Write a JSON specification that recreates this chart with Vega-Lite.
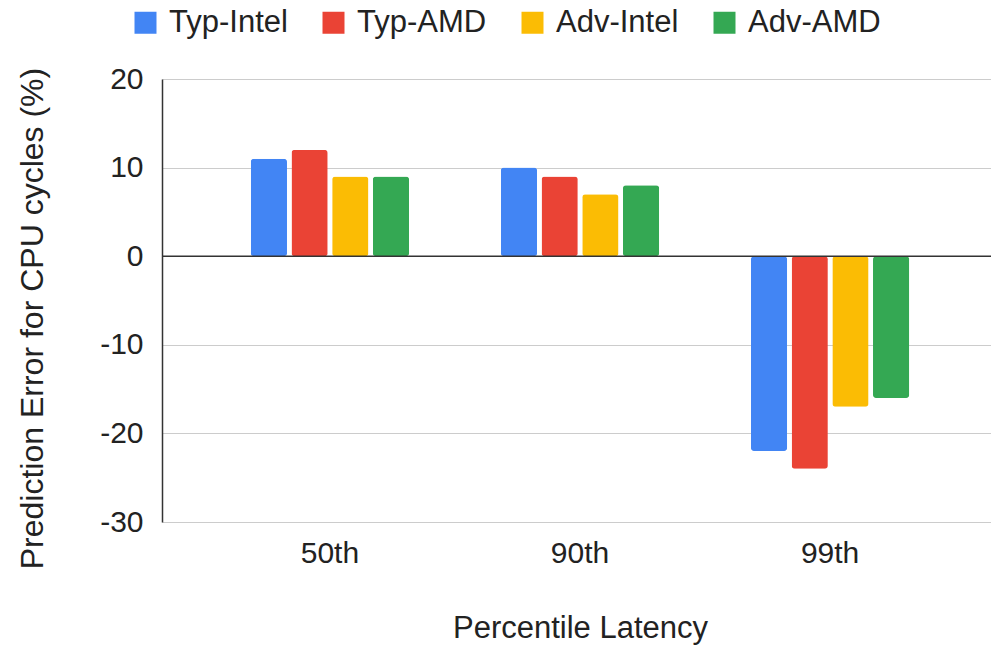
{
  "$schema": "https://vega.github.io/schema/vega-lite/v6.json",
  "width": 829,
  "height": 443,
  "autosize": {"type": "none"},
  "padding": {"left": 162, "top": 79, "right": 0, "bottom": 127},
  "background": "white",
  "config": {
    "view": {"stroke": null},
    "font": "Liberation Sans",
    "axis": {"labelFont": "Liberation Sans", "titleFont": "Liberation Sans", "labelColor": "#222222", "titleColor": "#222222", "titleFontWeight": "normal"},
    "legend": {"labelFont": "Liberation Sans", "labelColor": "#222222"}
  },
  "data": {
    "values": [
      {"percentile": "50th", "series": "Typ-Intel", "value": 11},
      {"percentile": "50th", "series": "Typ-AMD", "value": 12},
      {"percentile": "50th", "series": "Adv-Intel", "value": 9},
      {"percentile": "50th", "series": "Adv-AMD", "value": 9},
      {"percentile": "90th", "series": "Typ-Intel", "value": 10},
      {"percentile": "90th", "series": "Typ-AMD", "value": 9},
      {"percentile": "90th", "series": "Adv-Intel", "value": 7},
      {"percentile": "90th", "series": "Adv-AMD", "value": 8},
      {"percentile": "99th", "series": "Typ-Intel", "value": -22},
      {"percentile": "99th", "series": "Typ-AMD", "value": -24},
      {"percentile": "99th", "series": "Adv-Intel", "value": -17},
      {"percentile": "99th", "series": "Adv-AMD", "value": -16}
    ]
  },
  "layer": [
    {
      "mark": {"type": "bar", "cornerRadius": 3},
      "encoding": {
        "x": {
          "field": "percentile", "type": "nominal", "sort": ["50th", "90th", "99th"],
          "scale": {"paddingInner": 0.367, "paddingOuter": 0.355, "range": [0, 836]},
          "axis": {"title": "Percentile Latency", "labelAngle": 0, "labelFontSize": 30, "titleFontSize": 31, "labelPadding": 16, "titlePadding": 45, "ticks": false, "domain": false, "grid": false}
        },
        "xOffset": {
          "field": "series", "type": "nominal", "sort": ["Typ-Intel", "Typ-AMD", "Adv-Intel", "Adv-AMD"],
          "scale": {"paddingInner": 0.11, "paddingOuter": 0}
        },
        "y": {
          "field": "value", "type": "quantitative",
          "scale": {"domain": [-30, 20], "nice": false, "zero": false},
          "axis": {"title": "Prediction Error for CPU cycles (%)", "values": [-30, -20, -10, 0, 10, 20], "labelExpr": "'' + datum.value", "labelFontSize": 30, "titleFontSize": 32, "titleY": 239, "labelPadding": 19, "titlePadding": 50, "ticks": false, "domain": true, "domainColor": "#333333", "domainWidth": 1.5, "grid": true, "gridColor": "#cccccc", "gridWidth": 1}
        },
        "color": {
          "field": "series", "type": "nominal", "sort": ["Typ-Intel", "Typ-AMD", "Adv-Intel", "Adv-AMD"],
          "scale": {"domain": ["Typ-Intel", "Typ-AMD", "Adv-Intel", "Adv-AMD"], "range": ["#4285F4", "#EA4335", "#FBBC04", "#34A853"]},
          "legend": {"title": null, "orient": "none", "direction": "horizontal", "legendX": -32, "legendY": -72, "symbolType": "square", "symbolSize": 484, "symbolStrokeWidth": 0, "symbolOpacity": 1, "labelFontSize": 31, "labelOffset": 8, "columnPadding": 30}
        }
      }
    },
    {
      "data": {"values": [{"y": 0}]},
      "mark": {"type": "rule", "color": "#333333", "strokeWidth": 1.5},
      "encoding": {"y": {"field": "y", "type": "quantitative"}}
    }
  ]
}
